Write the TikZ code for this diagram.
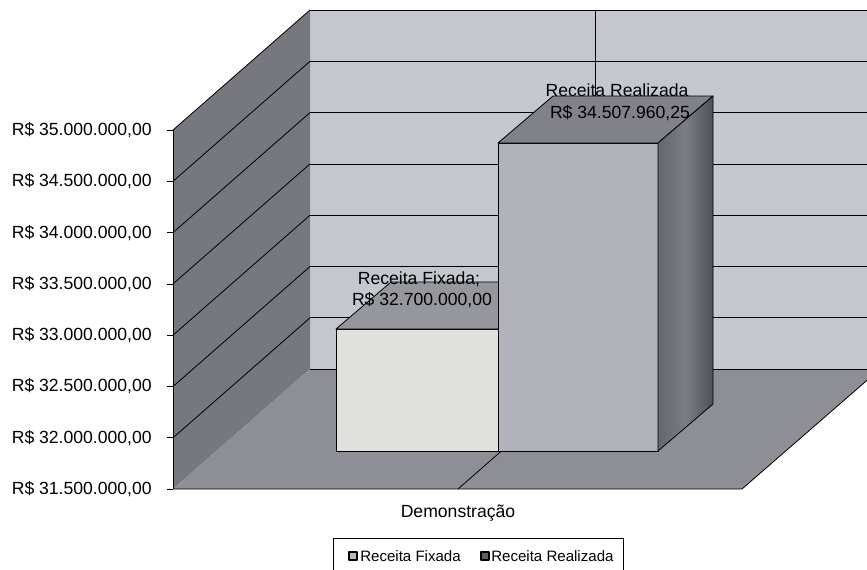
\documentclass[tikz,border=0pt]{standalone}
\usepackage{fontspec}
\setmainfont{Liberation Sans}
\definecolor{backwall}{RGB}{197,199,207}
\definecolor{leftwall}{RGB}{118,119,127}
\definecolor{floorgray}{RGB}{142,143,150}
\definecolor{fixfront}{RGB}{224,225,222}
\definecolor{fixtop}{RGB}{150,151,157}
\definecolor{realfront}{RGB}{178,179,186}
\definecolor{realtop}{RGB}{128,129,137}
\definecolor{realside}{RGB}{100,101,110}
\begin{document}
\begin{tikzpicture}[x=0.75pt, y=-0.75pt, line join=round,
        gridline/.style={black, line width=0.6pt},
        face/.style={draw=black, line width=0.6pt},
        axislabel/.style={anchor=east, inner sep=0pt, font=\fontsize{13.2}{15}\selectfont},
        datalabel/.style={inner sep=0pt, font=\fontsize{13.2}{15}\selectfont},
        legendtext/.style={anchor=west, inner sep=0pt, font=\fontsize{11.3}{13}\selectfont}]
    \useasboundingbox (0,0) rectangle (867,569);

    % walls
    \fill[backwall] (310,10) rectangle (880,369);
    \foreach \k in {0,...,6}
        \draw[gridline] (310,{10+51.3*\k}) -- (880,{10+51.3*\k});
    \draw[gridline] (595,10) -- (595,369);
    \fill[leftwall] (173,130) -- (310,10) -- (310,369) -- (173,489) -- cycle;
    \foreach \k in {0,...,6}
        \draw[gridline] (173,{130+51.3*\k}) -- (310,{10+51.3*\k});

    % floor
    \fill[floorgray] (173,489) -- (310,369) -- (880,369) -- (742,489) -- cycle;
    \draw[gridline] (310,369) -- (880,369);
    \draw[gridline] (458,489) -- (595,369);
    \draw[gridline] (173,489) -- (742,489) -- (880,369);

    % value axis
    \draw[gridline] (173,130) -- (173,489);
    \foreach \k in {0,...,7}
        \draw[gridline] (167,{130+51.3*\k}) -- (173,{130+51.3*\k});
    \node[axislabel] (v35)  at (152,130) {R\$ 35.000.000,00};
    \node[axislabel] (v345) at (152,181) {R\$ 34.500.000,00};
    \node[axislabel] (v34)  at (152,233) {R\$ 34.000.000,00};
    \node[axislabel] (v335) at (152,284) {R\$ 33.500.000,00};
    \node[axislabel] (v33)  at (152,335) {R\$ 33.000.000,00};
    \node[axislabel] (v325) at (152,386) {R\$ 32.500.000,00};
    \node[axislabel] (v32)  at (152,438) {R\$ 32.000.000,00};
    \node[axislabel] (v315) at (152,489) {R\$ 31.500.000,00};

    % bars
    \filldraw[face, fill=fixfront] (336,451) rectangle (498,329);
    \filldraw[face, fill=fixtop] (336,329) -- (498,329) -- (553,282) -- (391,282) -- cycle;
    \filldraw[face, fill=realfront] (498,451) rectangle (658,143);
    \filldraw[face, fill=realtop] (498,143) -- (658,143) -- (713,96) -- (553,96) -- cycle;
    \shade[left color=realside, right color=realside!80!black, middle color=realside!85!white]
        (658,143) -- (713,96) -- (713,404) -- (658,451) -- cycle;
    \draw[face] (658,143) -- (713,96) -- (713,404) -- (658,451) -- cycle;

    % data labels
    \node[datalabel] (fixname)  at (419,279) {Receita Fixada;};
    \node[datalabel] (fixvalue) at (422,300) {R\$ 32.700.000,00};
    \node[datalabel] (realname)  at (617,90) {Receita Realizada};
    \node[datalabel] (realvalue) at (620,113) {R\$ 34.507.960,25};

    % category axis
    \node[datalabel] (categ) at (458,513) {Demonstração};

    % legend
    \draw[line width=0.5pt, fill=white] (333,538) rectangle (623,590);
    \filldraw[line width=1pt, fill=gray!55] (349,552) rectangle (357,560);
    \node[legendtext] (legfix) at (360,556) {Receita Fixada};
    \filldraw[line width=1pt, fill=gray!75!black] (481,552) rectangle (489,560);
    \node[legendtext] (legreal) at (491,556) {Receita Realizada};
\end{tikzpicture}
\end{document}
